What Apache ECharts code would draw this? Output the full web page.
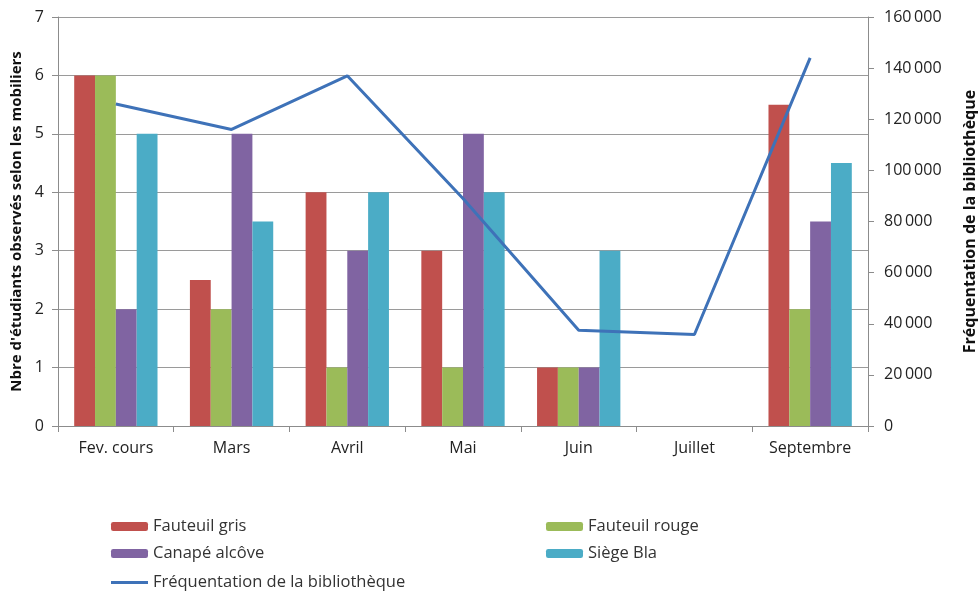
<!DOCTYPE html>
<html lang="fr">
<head>
    <meta charset="UTF-8">
    <title>Mobiliers et fréquentation</title>
    <style>
        body{ margin:0; background:#fff; }
        #main{ width:978px; height:596px; }
    </style>
</head>
<body>
<div id="main"></div>
<script src="https://cdn.jsdelivr.net/npm/echarts@6/dist/echarts.min.js"></script>
<script>
    const myChart = echarts.init(document.getElementById('main'));

    const mois = ['Fev. cours', 'Mars', 'Avril', 'Mai', 'Juin', 'Juillet', 'Septembre'];
    // nombre d'étudiants par mobilier
    const fauteuilGris = [6, 2.5, 4, 3, 1, null, 5.5];
    const fauteuilRouge = [6, 2, 1, 1, 1, null, 2];
    const canapeAlcove = [2, 5, 3, 5, 1, null, 3.5];
    const siegeBla = [5, 3.5, 4, 4, 3, null, 4.5];
    // fréquentation (axe de droite)
    const frequentation = [126000, 116000, 137000, 89000, 37500, 35800, 144000];

    const font = '"Open Sans", sans-serif';
    const grey = '#8c8c8c';
    const legendText = { fontSize: 16.5, color: '#333' };

    const bar = (name, data, color) => ({
        name, type: 'bar', data,
        barGap: 0, barCategoryGap: '28%',
        itemStyle: { color },
        emphasis: { disabled: true }
    });

    const option = {
        animation: false,
        textStyle: { fontFamily: font },
        grid: { left: 58, right: 110, top: 17, bottom: 170, outerBoundsMode: 'none' },
        legend: [{
            left: 106, top: 513, orient: 'vertical', itemGap: 10,
            itemWidth: 37, itemHeight: 9,
            textStyle: legendText,
            data: ['Fauteuil gris', 'Canapé alcôve']
        }, {
            left: 541, top: 513, orient: 'vertical', itemGap: 10,
            itemWidth: 37, itemHeight: 9,
            textStyle: legendText,
            data: ['Fauteuil rouge', 'Siège Bla']
        }, {
            left: 106, top: 569,
            itemWidth: 37, itemHeight: 3,
            textStyle: legendText,
            data: [{ name: 'Fréquentation de la bibliothèque', icon: 'rect' }]
        }],
        xAxis: {
            type: 'category', data: mois,
            axisLine: { lineStyle: { color: grey } },
            axisTick: { show: true, length: 6, lineStyle: { color: grey } },
            axisLabel: { fontSize: 16, color: '#222', margin: 14 }
        },
        yAxis: [{
            type: 'value', min: 0, max: 7, interval: 1,
            name: "Nbre d'étudiants observés selon les mobiliers",
            nameLocation: 'middle', nameGap: 33, nameRotate: 90,
            nameTextStyle: { fontSize: 15, fontWeight: 'bold', color: '#111' },
            axisLine: { show: true, lineStyle: { color: grey } },
            axisTick: { show: true, length: 6, lineStyle: { color: grey } },
            axisLabel: { fontSize: 16, color: '#222', margin: 14 },
            splitLine: { lineStyle: { color: '#9a9a9a' } }
        }, {
            type: 'value', min: 0, max: 160000, interval: 20000,
            name: 'Fréquentation de la bibliothèque',
            nameLocation: 'middle', nameGap: 94, nameRotate: 90,
            nameTextStyle: { fontSize: 16, fontWeight: 'bold', color: '#111' },
            axisLine: { show: true, lineStyle: { color: grey } },
            axisTick: { show: true, length: 6, lineStyle: { color: grey } },
            axisLabel: {
                fontSize: 16, color: '#222', margin: 16,
                formatter: v => v === 0 ? '0' : String(v).replace(/\B(?=(\d{3})+(?!\d))/g, '\u2009')
            },
            splitLine: { show: false }
        }],
        series: [
            bar('Fauteuil gris', fauteuilGris, '#C0504D'),
            bar('Fauteuil rouge', fauteuilRouge, '#9BBB59'),
            bar('Canapé alcôve', canapeAlcove, '#8064A2'),
            bar('Siège Bla', siegeBla, '#4BACC6'),
            {
                name: 'Fréquentation de la bibliothèque', type: 'line',
                yAxisIndex: 1, data: frequentation,
                symbol: 'none',
                lineStyle: { color: '#3E72B8', width: 3 },
                itemStyle: { color: '#3E72B8' },
                emphasis: { disabled: true }
            }
        ]
    };

    myChart.setOption(option);
</script>
</body>
</html>
